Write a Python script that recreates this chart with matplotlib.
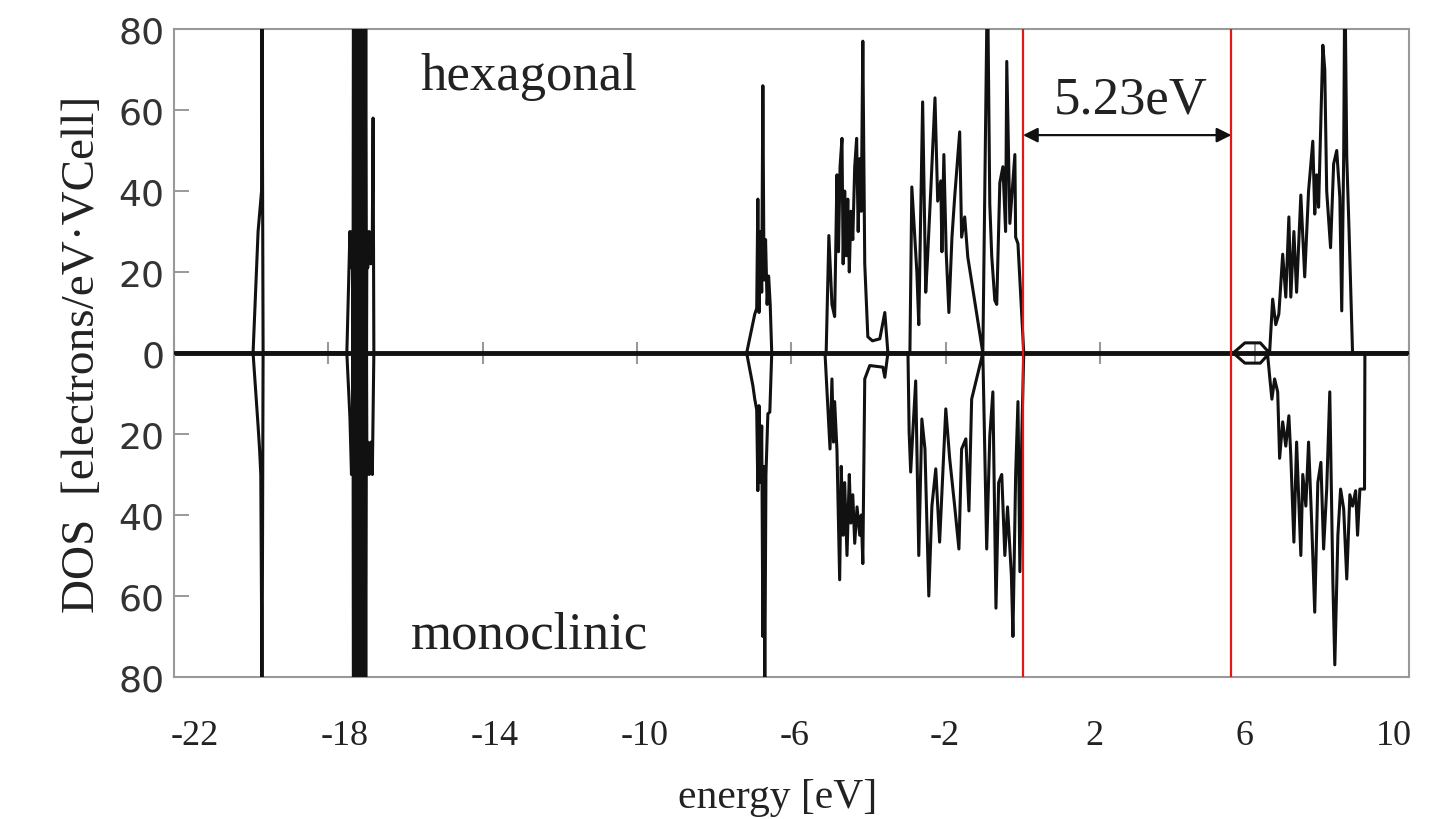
import matplotlib
matplotlib.use("Agg")
import matplotlib.pyplot as plt
from matplotlib.transforms import ScaledTranslation

# (energy eV, DOS); hexagonal on top, monoclinic mirrored below
hex_core = [(-22.0, 0), (-19.95, 0), (-19.82, 30), (-19.73, 40), (-19.72, 95), (-19.69, 0),
            (-17.52, 0), (-17.44, 30), (-17.40, 21), (-17.37, 30), (-17.36, 0), (-17.35, 95), (-17.33, 0),
            (-17.31, 95), (-17.29, 0), (-17.27, 95), (-17.25, 0), (-17.23, 95), (-17.21, 0),
            (-17.19, 95), (-17.17, 0), (-17.15, 95), (-17.13, 0), (-17.11, 95), (-17.09, 0),
            (-17.07, 95), (-17.05, 0), (-17.03, 95), (-17.01, 0), (-17.00, 30),
            (-16.98, 21), (-16.94, 30), (-16.90, 22), (-16.86, 29), (-16.84, 58), (-16.82, 0)]
hex_valence = [(-7.16, 0), (-6.95, 9.6), (-6.90, 11), (-6.87, 38), (-6.84, 10), (-6.80, 30),
               (-6.77, 15), (-6.74, 66), (-6.71, 18), (-6.67, 28), (-6.63, 12), (-6.59, 19),
               (-6.55, 12), (-6.51, 0),
               (-5.10, 0), (-5.03, 29), (-4.95, 12), (-4.88, 9), (-4.82, 44), (-4.78, 25),
               (-4.74, 46), (-4.69, 53), (-4.66, 22), (-4.62, 40), (-4.58, 24), (-4.54, 38),
               (-4.50, 20), (-4.46, 35), (-4.41, 28), (-4.36, 46), (-4.31, 53), (-4.27, 30),
               (-4.23, 48), (-4.19, 35), (-4.15, 77), (-4.10, 22), (-4.06, 13), (-4.02, 4),
               (-3.90, 3), (-3.71, 3.5), (-3.58, 10), (-3.50, 0),
               (-2.93, 0), (-2.88, 41), (-2.75, 20), (-2.70, 7), (-2.60, 62), (-2.52, 15),
               (-2.47, 24), (-2.39, 40), (-2.28, 63), (-2.21, 37.5), (-2.13, 42.5), (-2.10, 25),
               (-2.05, 49), (-1.99, 25), (-1.92, 10), (-1.84, 28.6), (-1.77, 38.5), (-1.64, 54.6),
               (-1.59, 28.6), (-1.51, 33.6), (-1.43, 23.7), (-1.04, 0), (-0.92, 95), (-0.86, 36.8),
               (-0.81, 24), (-0.73, 13), (-0.68, 12), (-0.60, 42), (-0.52, 46), (-0.45, 30),
               (-0.42, 72), (-0.34, 32), (-0.21, 49), (-0.19, 28.6), (-0.13, 27), (0.02, 0)]
hex_conduction = [(5.45, 0), (5.75, 2.5), (6.15, 2.5), (6.34, 0.5), (6.39, 0),
                  (6.47, 13.3), (6.55, 7), (6.63, 9.6), (6.73, 24.4), (6.81, 13.8), (6.89, 33.6),
                  (6.94, 13.8), (7.02, 30), (7.09, 15), (7.20, 39), (7.30, 18.8), (7.40, 40),
                  (7.51, 52.3), (7.56, 34.3), (7.61, 44), (7.66, 36), (7.77, 76), (7.82, 70),
                  (7.87, 40), (7.97, 26), (8.05, 46.7), (8.13, 50), (8.21, 38.5), (8.26, 10.4),
                  (8.31, 48.4), (8.34, 95), (8.39, 48.4), (8.45, 30), (8.54, 0), (10.0, 0)]

mono_core = [(-22.0, 0), (-19.95, 0), (-19.82, -18), (-19.78, -24), (-19.75, -30), (-19.73, -64),
             (-19.72, -95), (-19.69, 0),
             (-17.52, 0), (-17.44, -16), (-17.40, -30), (-17.37, -17), (-17.36, 0), (-17.35, -95), (-17.33, 0),
             (-17.31, -95), (-17.29, 0), (-17.27, -95), (-17.25, 0), (-17.23, -95), (-17.21, 0),
             (-17.19, -95), (-17.17, 0), (-17.15, -95), (-17.13, 0), (-17.11, -95), (-17.09, 0),
             (-17.07, -95), (-17.05, 0), (-17.03, -95), (-17.01, 0), (-17.00, -30),
             (-16.98, -22), (-16.94, -30), (-16.90, -22), (-16.86, -30), (-16.82, 0)]
mono_valence = [(-7.16, 0), (-7.00, -8), (-6.95, -11.4), (-6.90, -14), (-6.87, -34), (-6.84, -13),
                (-6.80, -32), (-6.77, -18), (-6.74, -70), (-6.72, -28), (-6.69, -82), (-6.66, -30),
                (-6.61, -15), (-6.56, -14.6), (-6.51, 0),
                (-5.13, 0), (-5.00, -23.7), (-4.95, -6.4), (-4.91, -22), (-4.88, -12), (-4.82, -24),
                (-4.75, -56), (-4.71, -28), (-4.66, -45), (-4.62, -32), (-4.56, -50), (-4.50, -30),
                (-4.46, -42), (-4.41, -35), (-4.36, -47), (-4.30, -38), (-4.23, -45), (-4.19, -40),
                (-4.15, -52), (-4.10, -6.4), (-3.97, -3.1), (-3.63, -3.5), (-3.58, -6), (-3.50, 0),
                (-2.98, 0), (-2.95, -19.5), (-2.91, -29.4), (-2.86, -20.5), (-2.78, -6.9), (-2.70, -50),
                (-2.62, -16.3), (-2.54, -23.7), (-2.44, -60), (-2.36, -37.8), (-2.26, -28.6),
                (-2.16, -46.7), (-2.00, -13.8), (-1.90, -26), (-1.77, -37.8), (-1.66, -48.4),
                (-1.59, -23.7), (-1.48, -21.2), (-1.40, -39), (-1.33, -11.4), (-1.04, 0),
                (-0.94, -48.4), (-0.86, -20.5), (-0.78, -9.6), (-0.70, -63), (-0.63, -32),
                (-0.55, -30), (-0.47, -50), (-0.40, -38), (-0.30, -55), (-0.26, -70), (-0.19, -30),
                (-0.13, -12), (-0.08, -54), (-0.03, -20), (0.02, 0)]
mono_conduction = [(5.45, 0), (5.75, -2.5), (6.15, -2.5), (6.34, -0.5),
                   (6.39, -5.6), (6.45, -11.4), (6.52, -6.4), (6.60, -9.6), (6.65, -26), (6.73, -17),
                   (6.81, -23), (6.89, -15.5), (6.94, -25.4), (7.02, -46.7), (7.09, -22), (7.20, -50),
                   (7.25, -30), (7.33, -37.8), (7.40, -22), (7.48, -41.7), (7.56, -64), (7.64, -32),
                   (7.72, -27), (7.79, -48.4), (7.87, -33.6), (7.95, -9.6), (8.03, -56.6), (8.08, -77),
                   (8.16, -45), (8.23, -33.6), (8.31, -38.5), (8.39, -55.8), (8.47, -35), (8.54, -37.8),
                   (8.62, -34), (8.67, -45), (8.73, -33.6), (8.85, -33.6), (8.86, 0), (10.0, 0)]

x_ticks = [-22, -18, -14, -10, -6, -2, 2, 6, 10]
y_ticks = [-80, -60, -40, -20, 0, 20, 40, 60, 80]
vbm, cbm = 0.0, 5.40
gap_label = "5.23eV"

serif = ["Liberation Serif", "DejaVu Serif"]
ink = "#222222"

fig = plt.figure(figsize=(14.4, 8.2), dpi=100)
ax = fig.add_axes([0.1208, 0.1732, 0.8576, 0.7902])

ax.axhline(0, color="#111111", lw=3.5, zorder=2)
ax.plot(x_ticks, [0] * len(x_ticks), ls="none", marker="|", ms=16, mew=1.5, color="#999999", zorder=1)

for band in (hex_core, hex_valence, hex_conduction, mono_core, mono_valence, mono_conduction):
    e, d = zip(*band)
    ax.plot(e, d, color="#111111", lw=2.2, zorder=3)

ax.axvline(vbm, color="#e01818", lw=1.6, zorder=4)
ax.axvline(cbm, color="#e01818", lw=1.6, zorder=4)
ax.annotate("", xy=(vbm, 53.8), xytext=(cbm, 53.8),
            arrowprops=dict(arrowstyle="<|-|>", color="#111111", lw=1.6, mutation_scale=22,
                            shrinkA=0, shrinkB=0), zorder=5)
ax.text((vbm + cbm) / 2 + 0.1, 62.5, gap_label, ha="center", va="center",
        fontsize=38, family=serif, color=ink)

ax.text(-12.8, 68.5, "hexagonal", ha="center", va="center", fontsize=38, family=serif, color=ink)
ax.text(-12.8, -69.5, "monoclinic", ha="center", va="center", fontsize=38, family=serif, color=ink)

ax.set_xlim(-22, 10)
ax.set_ylim(-80, 80)
ax.set_xticks(x_ticks)
ax.set_xticklabels([str(t) for t in x_ticks], family=serif, fontsize=26, color=ink)
ax.set_yticks(y_ticks)
ax.set_yticklabels([str(abs(t)) for t in y_ticks], fontsize=26, color="#333333")
ax.tick_params(axis="x", length=0, pad=30)
ax.tick_params(axis="y", direction="in", length=11, width=1.2, color="#888888", pad=7,
               left=True, right=False)

# the tick labels in the source sit slightly off their ticks, drifting left to right
for lab, t in zip(ax.get_xticklabels(), x_ticks):
    dx = (21 - (t + 22) * 1.125) / 100
    lab.set_transform(lab.get_transform() + ScaledTranslation(dx, 0, fig.dpi_scale_trans))

for s in ax.spines.values():
    s.set_color("#999999")
    s.set_linewidth(1.5)

ax.set_xlabel("energy [eV]", family=serif, fontsize=30, color=ink, labelpad=8)
ax.xaxis.set_label_coords(0.489, -0.155)
ax.set_ylabel("DOS  [electrons/eV\u00b7VCell]", family=serif, fontsize=34, color=ink, labelpad=10)

fig.savefig("out.png", dpi=100)
